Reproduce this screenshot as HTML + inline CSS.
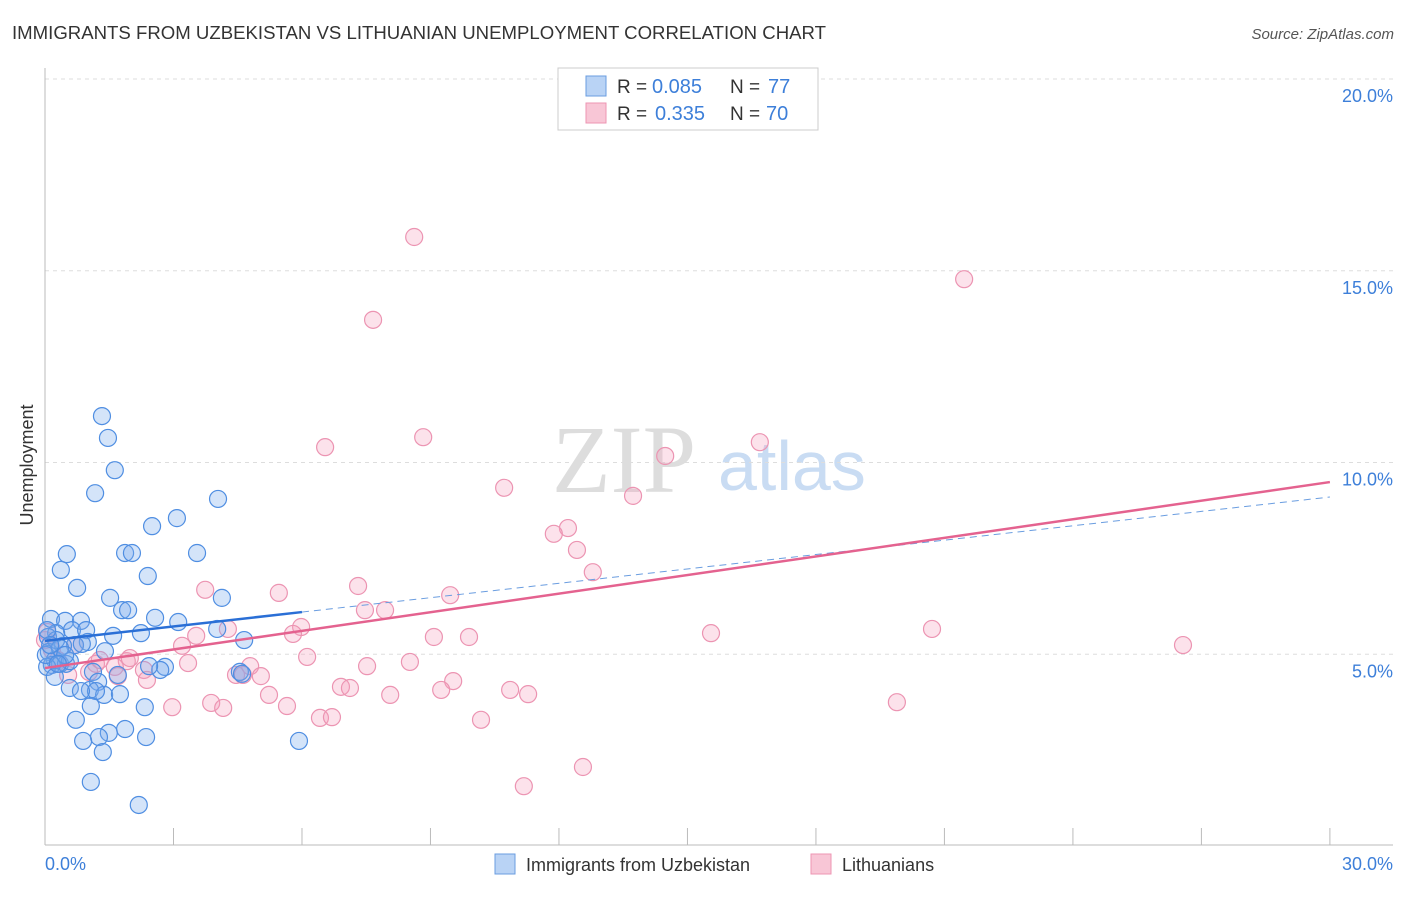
<!DOCTYPE html>
<html><head><meta charset="utf-8"><style>
body{margin:0;background:#fff;font-family:"Liberation Sans",sans-serif}
</style></head><body>
<svg width="1406" height="892" xmlns="http://www.w3.org/2000/svg">
<text x="12" y="39" font-size="18" fill="#333" textLength="814" lengthAdjust="spacingAndGlyphs">IMMIGRANTS FROM UZBEKISTAN VS LITHUANIAN UNEMPLOYMENT CORRELATION CHART</text>
<text x="1394" y="39" font-size="15" fill="#555" font-style="italic" text-anchor="end">Source: ZipAtlas.com</text>
<g>
<text x="552" y="492" font-size="96" font-family="Liberation Serif,serif" fill="#ddd">ZIP</text>
<text x="718" y="490" font-size="70" fill="#c9dcf3">atlas</text>
</g>
<g id="grid"></g>
<line x1="45" y1="68" x2="45" y2="845" stroke="#bbb"/>
<line x1="45" y1="845" x2="1393" y2="845" stroke="#bbb"/>
<g id="xticks"></g>
<text x="25" y="457" font-size="18" fill="#333" transform="rotate(-90 33 457)" text-anchor="middle">Unemployment</text>
<text x="45" y="870" font-size="18" fill="#3d7fd9">0.0%</text>
<text x="1393" y="870" font-size="18" fill="#3d7fd9" text-anchor="end">30.0%</text>
<g id="pts"></g>
<g id="lines"></g>
<g>
<rect x="558" y="68" width="260" height="62" fill="#fff" stroke="#ccc"/>
<rect x="586" y="76" width="20" height="20" fill="#b9d3f5" stroke="#6a9de0"/>
<rect x="586" y="103" width="20" height="20" fill="#f8c6d6" stroke="#ee95b3"/>
<text x="617" y="93" font-size="19" fill="#333">R =</text>
<text x="652" y="93" font-size="20" fill="#3d7fd9">0.085</text>
<text x="730" y="93" font-size="19" fill="#333">N =</text>
<text x="768" y="93" font-size="20" fill="#3d7fd9">77</text>
<text x="617" y="120" font-size="19" fill="#333">R =</text>
<text x="655" y="120" font-size="20" fill="#3d7fd9">0.335</text>
<text x="730" y="120" font-size="19" fill="#333">N =</text>
<text x="766" y="120" font-size="20" fill="#3d7fd9">70</text>
</g>
<g>
<rect x="495" y="854" width="20" height="20" fill="#b9d3f5" stroke="#6a9de0"/>
<text x="526" y="871" font-size="18" fill="#333">Immigrants from Uzbekistan</text>
<rect x="811" y="854" width="20" height="20" fill="#f8c6d6" stroke="#ee95b3"/>
<text x="842" y="871" font-size="18" fill="#333">Lithuanians</text>
</g>
</svg>
<script>
const yTicks=[5,10,15,20];
const yTickLabels=["5.0%","10.0%","15.0%","20.0%"];
const xTicks=[3,6,9,12,15,18,21,24,27,30];
const blueX=[1.33,1.47,1.63,1.17,4.04,3.08,2.50,0.51,1.87,2.03,3.55,0.37,2.40,0.75,1.52,4.13,1.80,1.94,2.57,0.14,0.47,0.84,3.11,4.02,0.63,0.96,0.26,1.59,2.24,0.07,4.65,1.00,0.70,0.86,0.42,1.40,0.09,0.23,0.35,0.49,0.58,0.16,0.05,2.80,2.69,2.43,4.55,4.60,1.12,1.70,0.23,0.58,1.24,1.05,1.38,1.19,1.75,0.84,1.07,2.33,0.72,1.87,1.49,1.26,2.36,0.89,5.93,1.35,1.07,2.19,0.26,0.02,0.05,0.35,0.47,0.30,0.12];
const blueY=[11.21,10.64,9.80,9.20,9.05,8.55,8.34,7.61,7.64,7.64,7.64,7.20,7.04,6.73,6.47,6.47,6.15,6.15,5.95,5.92,5.87,5.87,5.84,5.66,5.63,5.63,5.55,5.48,5.55,5.45,5.37,5.32,5.24,5.27,5.22,5.08,5.06,4.85,4.75,4.75,4.82,4.72,4.67,4.67,4.59,4.69,4.54,4.49,4.54,4.46,4.41,4.12,4.28,4.07,3.94,4.04,3.96,4.04,3.65,3.62,3.29,3.05,2.95,2.84,2.84,2.74,2.74,2.45,1.67,1.07,5.37,4.98,5.63,5.16,4.98,4.75,5.24];
const pinkX=[8.62,21.46,7.66,6.54,8.83,16.69,14.48,10.72,13.73,12.21,11.88,12.42,12.79,3.74,5.46,7.31,9.46,7.47,7.94,5.98,4.27,5.79,3.53,9.08,9.90,15.55,20.71,26.57,0.05,0.16,0.00,3.20,6.12,8.52,7.52,3.34,1.91,1.19,1.98,4.79,4.46,4.62,5.04,2.31,1.63,0.54,1.03,1.70,2.38,9.53,6.91,7.12,10.86,11.28,9.25,5.23,8.06,3.88,4.16,2.97,5.65,19.89,6.42,6.70,10.18,12.56,11.18,0.30,0.70,1.28];
const pinkY=[15.88,14.78,13.72,10.40,10.66,10.53,10.17,9.34,9.13,8.29,8.14,7.72,7.14,6.68,6.60,6.78,6.54,6.15,6.15,5.71,5.66,5.53,5.48,5.45,5.45,5.55,5.66,5.24,5.58,5.11,5.37,5.22,4.93,4.80,4.69,4.77,4.82,4.75,4.90,4.69,4.46,4.46,4.43,4.59,4.67,4.46,4.54,4.43,4.33,4.30,4.15,4.12,4.07,3.96,4.07,3.94,3.94,3.73,3.60,3.62,3.65,3.75,3.34,3.36,3.29,2.06,1.56,4.85,5.24,4.85];
const blueLine=[5.35,9.1];
const pinkLine=[4.64,9.49];
const blueSolidEnd=6;
const NS="http://www.w3.org/2000/svg";
const sx=v=>45+v*42.83, sy=v=>846-v*38.35;
function mk(t,a,p){const e=document.createElementNS(NS,t);for(const k in a)e.setAttribute(k,a[k]);p.appendChild(e);return e;}
const grid=document.getElementById('grid');
yTicks.forEach((t,i)=>{
 const l=mk('line',{x1:45,x2:1393,y1:sy(t),y2:sy(t),stroke:'#ddd','stroke-dasharray':'4 4'},grid);
 
 
 const tx=mk('text',{x:1393,y:sy(t)+23,'font-size':18,fill:'#3d7fd9','text-anchor':'end'},grid);
 tx.textContent=yTickLabels[i];
 
 
});
const xt=document.getElementById('xticks');
xTicks.forEach(t=>{
 const l=mk('line',{x1:sx(t),x2:sx(t),y1:828,y2:845,stroke:'#bbb'},xt);
 
 
});
const pts=document.getElementById('pts');
pinkX.forEach((x,i)=>{
 const c=mk('circle',{cx:sx(x),cy:sy(pinkY[i]),r:8.5,fill:'rgba(244,160,190,0.3)',stroke:'#ec94b2','stroke-width':1.2},pts);
 
 
});
blueX.forEach((x,i)=>{
 const c=mk('circle',{cx:sx(x),cy:sy(blueY[i]),r:8.5,fill:'rgba(120,170,235,0.32)',stroke:'#4f8ee2','stroke-width':1.2},pts);
 
 
});
const ln=document.getElementById('lines');
const by=x=>blueLine[0]+(blueLine[1]-blueLine[0])*x/30;
const py=x=>pinkLine[0]+(pinkLine[1]-pinkLine[0])*x/30;
let l=mk('line',{x1:sx(blueSolidEnd),y1:sy(by(blueSolidEnd)),x2:sx(30),y2:sy(by(30)),stroke:'#6a9de0','stroke-width':1,'stroke-dasharray':'7 5'},ln);


l=mk('line',{x1:sx(0),y1:sy(py(0)),x2:sx(30),y2:sy(py(30)),stroke:'#e4628f','stroke-width':2.5},ln);


l=mk('line',{x1:sx(0),y1:sy(by(0)),x2:sx(blueSolidEnd),y2:sy(by(blueSolidEnd)),stroke:'#2a6fd6','stroke-width':2.5},ln);


</script>
</body></html>
